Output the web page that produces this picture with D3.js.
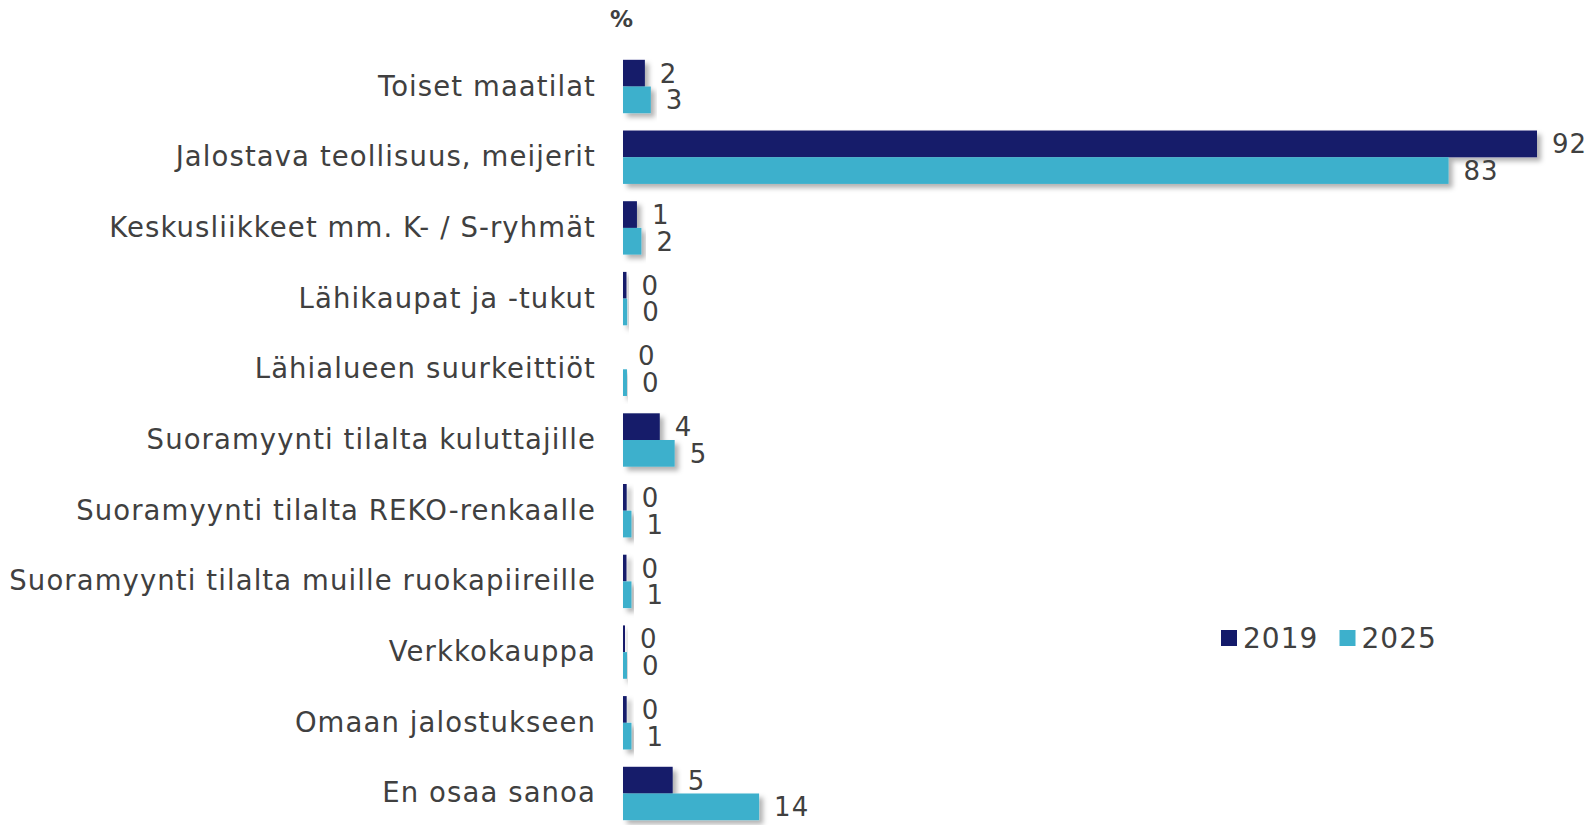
<!DOCTYPE html>
<html>
<head>
<meta charset="utf-8">
<script src="https://cdn.jsdelivr.net/npm/d3@7"></script>
<style>
  html, body { margin: 0; padding: 0; background: #fff; }
  svg { display: block; }
</style>
</head>
<body>
<svg id="chart" width="1596" height="825"></svg>
<script>
const categories = [
  "Toiset maatilat",
  "Jalostava teollisuus, meijerit",
  "Keskusliikkeet mm. K- / S-ryhmät",
  "Lähikaupat ja -tukut",
  "Lähialueen suurkeittiöt",
  "Suoramyynti tilalta kuluttajille",
  "Suoramyynti tilalta REKO-renkaalle",
  "Suoramyynti tilalta muille ruokapiireille",
  "Verkkokauppa",
  "Omaan jalostukseen",
  "En osaa sanoa"
];
const seriesNames = ["2019", "2025"];
const values2019 = [2.2, 92, 1.4, 0.35, 0, 3.7, 0.37, 0.35, 0.2, 0.37, 5.0];
const values2025 = [2.8, 83.1, 1.85, 0.42, 0.4, 5.2, 0.85, 0.85, 0.4, 0.85, 13.7];
const seriesColors = ["#131a6a", "#3db0cc"];
const unitLabel = "%";

const svg = d3.select("#chart");
const textColor = "#404040";
const font = "'DejaVu Sans', Verdana, sans-serif";

const defs = svg.append("defs");
const f = defs.append("filter").attr("id", "shadow")
  .attr("x", "-10%").attr("y", "-20%").attr("width", "130%").attr("height", "150%");
f.append("feDropShadow").attr("dx", 4).attr("dy", 4).attr("stdDeviation", 2.5)
  .attr("flood-color", "#000").attr("flood-opacity", 0.3);

const x = d3.scaleLinear().domain([0, 92]).range([623, 1537]);
const y = d3.scaleBand().domain(categories).range([42.5, 837.5])
  .paddingInner(0.245).paddingOuter(0.245);
const ySub = d3.scaleBand().domain(seriesNames).range([0, y.bandwidth()]);

const rows = categories.map((c, i) => ({ cat: c, vals: [values2019[i], values2025[i]] }));
const fmt = d3.format(".0f");

const g = svg.append("g").selectAll("g.row").data(rows).join("g")
  .attr("class", "row")
  .attr("transform", d => `translate(0,${y(d.cat)})`);

g.append("g").attr("filter", "url(#shadow)")
  .selectAll("rect").data(d => d.vals.map((v, j) => ({ v, s: seriesNames[j], j })))
  .join("rect")
  .attr("x", x(0))
  .attr("y", d => ySub(d.s))
  .attr("width", d => Math.max(0, x(d.v) - x(0)))
  .attr("height", ySub.bandwidth())
  .attr("fill", d => seriesColors[d.j]);

g.selectAll("text.val").data(d => d.vals.map((v, j) => ({ v, s: seriesNames[j], j })))
  .join("text")
  .attr("class", "val")
  .attr("x", d => x(d.v) + 15)
  .attr("y", d => ySub(d.s) + ySub.bandwidth() / 2 + 9.5)
  .attr("font-family", font)
  .attr("font-size", 26)
  .attr("letter-spacing", 1)
  .attr("fill", textColor)
  .text(d => fmt(d.v));

// category axis labels
const yAxis = d3.axisLeft(y).tickSize(0).tickPadding(0);
const axG = svg.append("g").attr("transform", "translate(596,0)").call(yAxis);
axG.select(".domain").remove();
axG.selectAll("text")
  .attr("font-family", font)
  .attr("font-size", 27.5)
  .attr("letter-spacing", 1.1)
  .attr("fill", textColor)
  .attr("dy", null)
  .attr("y", 9);

// unit label
svg.append("text")
  .attr("x", 610).attr("y", 27)
  .attr("font-family", font)
  .attr("font-size", 23)
  .attr("font-weight", "bold")
  .attr("fill", textColor)
  .text(unitLabel);

// legend
const legend = svg.append("g").selectAll("g").data(seriesNames).join("g")
  .attr("transform", (d, i) => `translate(${1221 + i * 118.5},630)`);
legend.append("rect").attr("width", 16).attr("height", 16)
  .attr("fill", (d, i) => seriesColors[i]);
legend.append("text")
  .attr("x", 22).attr("y", 18)
  .attr("font-family", font)
  .attr("font-size", 28)
  .attr("letter-spacing", 1)
  .attr("fill", textColor)
  .text(d => d);
</script>
</body>
</html>
